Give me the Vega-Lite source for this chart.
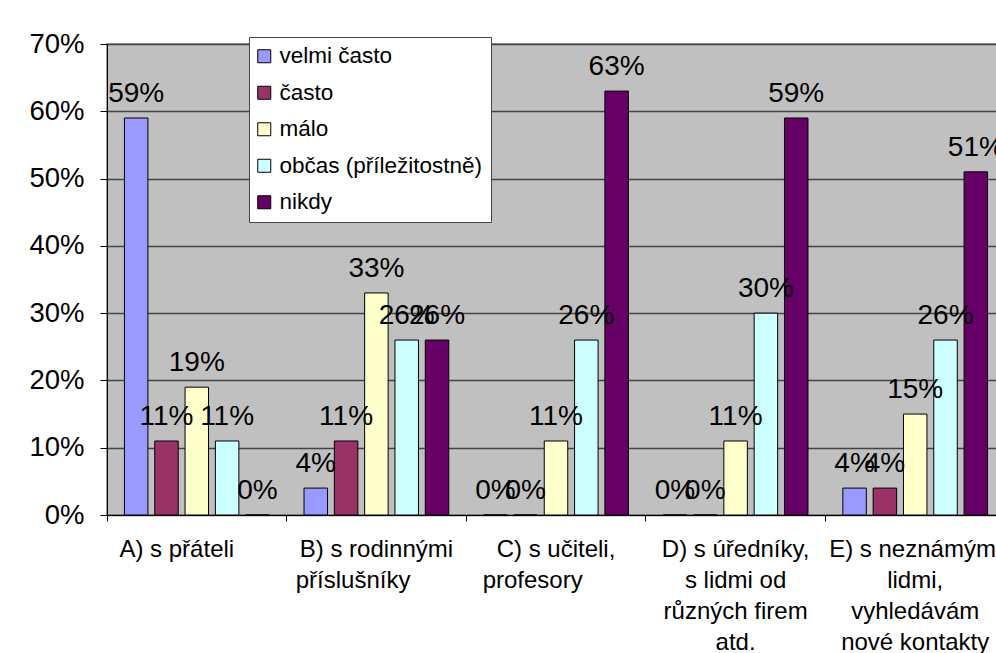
{
  "$schema": "https://vega.github.io/schema/vega-lite/v6.json",
  "width": 898,
  "height": 471,
  "autosize": {"type": "none"},
  "padding": {"left": 107, "top": 44, "right": -9, "bottom": 138},
  "background": "white",
  "config": {
    "font": "Liberation Sans",
    "view": {"fill": "#C0C0C0", "stroke": "#808080", "strokeWidth": 1.5}
  },
  "data": {
    "values": [
      {"skupina": "A) s přáteli", "cetnost": "velmi často", "podil": 0.59},
      {"skupina": "A) s přáteli", "cetnost": "často", "podil": 0.11},
      {"skupina": "A) s přáteli", "cetnost": "málo", "podil": 0.19},
      {"skupina": "A) s přáteli", "cetnost": "občas (příležitostně)", "podil": 0.11},
      {"skupina": "A) s přáteli", "cetnost": "nikdy", "podil": 0.0},
      {"skupina": "B) s rodinnými příslušníky", "cetnost": "velmi často", "podil": 0.04},
      {"skupina": "B) s rodinnými příslušníky", "cetnost": "často", "podil": 0.11},
      {"skupina": "B) s rodinnými příslušníky", "cetnost": "málo", "podil": 0.33},
      {"skupina": "B) s rodinnými příslušníky", "cetnost": "občas (příležitostně)", "podil": 0.26},
      {"skupina": "B) s rodinnými příslušníky", "cetnost": "nikdy", "podil": 0.26},
      {"skupina": "C) s učiteli, profesory", "cetnost": "velmi často", "podil": 0.0},
      {"skupina": "C) s učiteli, profesory", "cetnost": "často", "podil": 0.0},
      {"skupina": "C) s učiteli, profesory", "cetnost": "málo", "podil": 0.11},
      {"skupina": "C) s učiteli, profesory", "cetnost": "občas (příležitostně)", "podil": 0.26},
      {"skupina": "C) s učiteli, profesory", "cetnost": "nikdy", "podil": 0.63},
      {"skupina": "D) s úředníky, s lidmi od různých firem atd.", "cetnost": "velmi často", "podil": 0.0},
      {"skupina": "D) s úředníky, s lidmi od různých firem atd.", "cetnost": "často", "podil": 0.0},
      {"skupina": "D) s úředníky, s lidmi od různých firem atd.", "cetnost": "málo", "podil": 0.11},
      {"skupina": "D) s úředníky, s lidmi od různých firem atd.", "cetnost": "občas (příležitostně)", "podil": 0.30},
      {"skupina": "D) s úředníky, s lidmi od různých firem atd.", "cetnost": "nikdy", "podil": 0.59},
      {"skupina": "E) s neznámými lidmi, vyhledávám nové kontakty", "cetnost": "velmi často", "podil": 0.04},
      {"skupina": "E) s neznámými lidmi, vyhledávám nové kontakty", "cetnost": "často", "podil": 0.04},
      {"skupina": "E) s neznámými lidmi, vyhledávám nové kontakty", "cetnost": "málo", "podil": 0.15},
      {"skupina": "E) s neznámými lidmi, vyhledávám nové kontakty", "cetnost": "občas (příležitostně)", "podil": 0.26},
      {"skupina": "E) s neznámými lidmi, vyhledávám nové kontakty", "cetnost": "nikdy", "podil": 0.51}
    ]
  },
  "encoding": {
    "x": {
      "field": "skupina",
      "type": "nominal",
      "sort": null,
      "scale": {"paddingInner": 0, "paddingOuter": 0},
      "axis": {
        "title": null,
        "labelAngle": 0,
        "bandPosition": 0,
        "domainColor": "black",
        "tickColor": "black",
        "tickSize": 6,
        "labelFontSize": 24,
        "labelColor": "black",
        "labelPadding": 16,
        "labelBaseline": "top",
        "labelLineHeight": 31,
        "labelLimit": 0,
        "grid": false,
        "labelExpr": "{'A) s přáteli': 'A) s přáteli\u00a0\u00a0\u00a0\u00a0\u00a0\u00a0\u200b', 'B) s rodinnými příslušníky': ['B) s rodinnými', 'příslušníky\u00a0\u00a0\u00a0\u00a0\u00a0\u00a0\u00a0\u200b'], 'C) s učiteli, profesory': ['C) s učiteli,', 'profesory\u00a0\u00a0\u00a0\u00a0\u00a0\u00a0\u00a0\u200b'], 'D) s úředníky, s lidmi od různých firem atd.': ['D) s úředníky,', 's lidmi od', 'různých firem', 'atd.'], 'E) s neznámými lidmi, vyhledávám nové kontakty': ['E) s neznámými', 'lidmi,', 'vyhledávám', 'nové kontakty']}[datum.label]"
      }
    },
    "xOffset": {
      "field": "cetnost",
      "type": "nominal",
      "sort": ["velmi často", "často", "málo", "občas (příležitostně)", "nikdy"],
      "scale": {"paddingInner": 0.225, "paddingOuter": 0.575}
    },
    "y": {
      "field": "podil",
      "type": "quantitative",
      "scale": {"domain": [0, 0.7], "nice": false},
      "axis": {
        "title": null,
        "values": [0, 0.1, 0.2, 0.3, 0.4, 0.5, 0.6, 0.7],
        "format": ".0%",
        "domainColor": "black",
        "tickColor": "black",
        "tickSize": 7,
        "labelFontSize": 27.5,
        "labelColor": "black",
        "labelPadding": 16,
        "grid": true,
        "gridColor": "#444444",
        "gridWidth": 1.3
      }
    }
  },
  "layer": [
    {
      "mark": {"type": "bar", "stroke": "black", "strokeWidth": 1},
      "encoding": {
        "color": {
          "field": "cetnost",
          "type": "nominal",
          "scale": {
            "domain": ["velmi často", "často", "málo", "občas (příležitostně)", "nikdy"],
            "range": ["#9999FF", "#993366", "#FFFFCC", "#CCFFFF", "#660066"]
          },
          "legend": {
            "title": null,
            "orient": "none",
            "legendX": 142,
            "legendY": -7,
            "fillColor": "white",
            "strokeColor": "#444444",
            "padding": 8,
            "symbolType": "square",
            "symbolSize": 169,
            "symbolOffset": -4,
            "symbolStrokeColor": "black",
            "symbolStrokeWidth": 1,
            "symbolOpacity": 1,
            "labelFontSize": 22.5,
            "labelColor": "black",
            "labelOffset": 4,
            "labelLimit": 0,
            "rowPadding": 13.5
          }
        }
      }
    },
    {
      "mark": {"type": "text", "baseline": "alphabetic", "dy": -16, "fontSize": 28, "color": "black"},
      "encoding": {
        "text": {"field": "podil", "type": "quantitative", "format": ".0%"}
      }
    }
  ]
}
